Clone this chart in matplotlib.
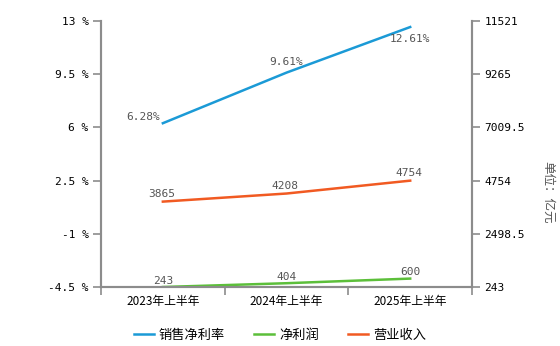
import matplotlib.pyplot as plt
import numpy as np

plt.rcParams['font.family'] = ['Noto Sans CJK SC', 'DejaVu Sans']

# 数据
periods = ['2023年上半年', '2024年上半年', '2025年上半年']
net_margin = [6.28, 9.61, 12.61]      # 销售净利率 %
net_profit = [243, 404, 600]          # 净利润 亿元
revenue = [3865, 4208, 4754]          # 营业收入 亿元

left_ticks = [-4.5, -1, 2.5, 6, 9.5, 13]
right_ticks = [243, 2498.5, 4754, 7009.5, 9265, 11521]

c_blue = '#1b9ad6'
c_green = '#5cbf3a'
c_orange = '#f15a22'
axis_c = '#8c8c8c'
label_c = '#555555'
mono = 'DejaVu Sans Mono'

fig = plt.figure(figsize=(5.6, 3.46), dpi=100)
ax = fig.add_axes([0.1804, 0.1705, 0.6625, 0.7685])
ax2 = ax.twinx()

x = np.arange(len(periods))

l1, = ax.plot(x, net_margin, color=c_blue, lw=1.8)
l2, = ax2.plot(x, net_profit, color=c_green, lw=1.8)
l3, = ax2.plot(x, revenue, color=c_orange, lw=1.8)

ax.set_xlim(-0.5, 2.5)
ax.set_ylim(-4.5, 13)
ax2.set_ylim(243, 11521)

ax.set_yticks(left_ticks)
ax.set_yticklabels(['%g %%' % v for v in left_ticks], fontsize=8, family=mono)
ax2.set_yticks(right_ticks)
ax2.set_yticklabels(['%g' % v for v in right_ticks], fontsize=8, family=mono)

ax.set_xticks(x)
ax.set_xticklabels(periods, fontsize=8.5)
ax.set_xticks([-0.5, 0.5, 1.5, 2.5], minor=True)
ax.tick_params(axis='x', which='major', length=0, pad=6)
ax.tick_params(axis='x', which='minor', length=6, color=axis_c, width=1.2)
ax.tick_params(axis='y', length=6, color=axis_c, width=1.2, pad=3)
ax2.tick_params(axis='y', length=6, color=axis_c, width=1.2, pad=3)

for a in (ax, ax2):
    a.spines['top'].set_visible(False)
    for s in ('left', 'right', 'bottom'):
        a.spines[s].set_color(axis_c)
        a.spines[s].set_linewidth(1.5)

# 数据标签
margin_off = [(-14, 1), (0, 4), (0, -12)]
for xi, v, off in zip(x, net_margin, margin_off):
    ax.annotate('%.2f%%' % v, (xi, v), xytext=off, textcoords='offset points',
                ha='center', va='bottom', fontsize=8, family=mono, color=label_c)
for xi, v in zip(x, revenue):
    ax2.annotate('%d' % v, (xi, v), xytext=(-1, 2), textcoords='offset points',
                 ha='center', va='bottom', fontsize=8, family=mono, color=label_c)
for xi, v in zip(x, net_profit):
    ax2.annotate('%d' % v, (xi, v), xytext=(0, 1), textcoords='offset points',
                 ha='center', va='bottom', fontsize=8, family=mono, color=label_c)

fig.text(0.978, 0.445, '单位：亿元', rotation=-90, ha='center', va='center',
         fontsize=9, color=label_c)

fig.legend([l1, l2, l3], ['销售净利率', '净利润', '营业收入'], loc='lower center',
           bbox_to_anchor=(0.5, -0.022), ncol=3, frameon=False, fontsize=9.5,
           handlelength=1.5, handletextpad=0.4, columnspacing=2.2)

fig.savefig('out.png', dpi=100)
